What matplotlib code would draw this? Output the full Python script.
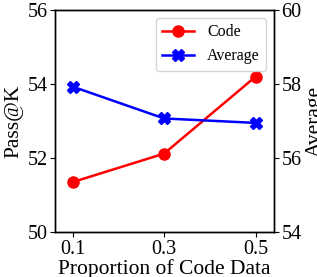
import matplotlib
matplotlib.use('Agg')
import matplotlib.pyplot as plt

# data
proportion = [0.1, 0.3, 0.5]
code_pass = [51.35, 52.12, 54.2]
average = [57.93, 57.07, 56.95]

plt.rcParams['font.family'] = ['Liberation Serif', 'DejaVu Serif']

fig = plt.figure(figsize=(3.17, 2.77), dpi=100)
ax = fig.add_subplot(1, 1, 1)
fig.subplots_adjust(left=0.174, right=0.864, top=0.964, bottom=0.162)
ax2 = ax.twinx()

l1, = ax.plot(proportion, code_pass, '-o', color='red', lw=1.8, ms=8, label='Code')
l2, = ax2.plot(proportion, average, '-X', color='blue', lw=1.8, ms=8, label='Average')

ax.set_xlim(0.062, 0.54)
ax.set_ylim(50, 56)
ax2.set_ylim(54, 60)
ax.set_xticks(proportion)
ax.set_xticklabels(['0.1', '0.3', '0.5'])
ax.set_yticks([50, 52, 54, 56])
ax2.set_yticks([54, 56, 58, 60])
for a in (ax, ax2):
    a.tick_params(labelsize=14.5, pad=2)
    for s in a.spines.values():
        s.set_linewidth(1.0)

ax.set_xlabel('Proportion of Code Data', fontsize=15.5, labelpad=0)
ax.set_ylabel('Pass@K', fontsize=15.5, labelpad=3)
ax2.set_ylabel('Average', fontsize=15.5, labelpad=3)

ax.legend([l1, l2], ['Code', 'Average'], loc='upper right', fontsize=11.5)

plt.savefig('out.png', dpi=100)
